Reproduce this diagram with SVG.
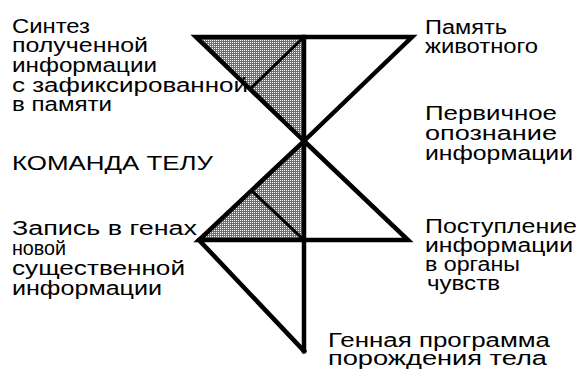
<svg xmlns="http://www.w3.org/2000/svg" width="580" height="372" viewBox="0 0 580 372">
<style>
.t{font-family:"Liberation Sans",Arial,sans-serif;font-size:19.5px;fill:#000}
.s{fill:none;stroke:#000;stroke-width:4.5;stroke-linejoin:miter;stroke-linecap:square}
.i{fill:none;stroke:#000;stroke-width:3}
.sh{fill:url(#dots);stroke:none}
</style>
<defs>
<pattern id="dots" width="2" height="2" patternUnits="userSpaceOnUse">
<rect width="2" height="2" fill="#6e6e6e"/>
<rect width="1" height="1" fill="#fff"/>
</pattern>
</defs>
<rect width="580" height="372" fill="#fff"/>
<g id="figure">
<polygon class="sh" points="196,37 304,37 304,140"/>
<polygon class="sh" points="199,240 304,140 304,240"/>
</g>
<g id="connectors">
<polygon class="s" points="196,37 412,37 304,141"/>
<polygon class="s" points="304,141 408,240 199,240"/>
<polyline class="s" points="199,240 304,351"/>
<line class="s" x1="304" y1="37" x2="304" y2="351"/>
<line class="i" x1="304" y1="37" x2="250" y2="89"/>
<line class="i" x1="251" y1="190" x2="304" y2="240"/>
</g>
<g id="synthesis">
<text class="t" x="12" y="33" textLength="78" lengthAdjust="spacingAndGlyphs">Синтез</text>
<text class="t" x="12" y="52" textLength="136" lengthAdjust="spacingAndGlyphs">полученной</text>
<text class="t" x="12" y="72" textLength="145" lengthAdjust="spacingAndGlyphs">информации</text>
<text class="t" x="12" y="91.5" textLength="236" lengthAdjust="spacingAndGlyphs">с зафиксированной</text>
<text class="t" x="12" y="111" textLength="100" lengthAdjust="spacingAndGlyphs">в памяти</text>
</g>
<g id="command">
<text class="t" x="12" y="170" textLength="201" lengthAdjust="spacingAndGlyphs">КОМАНДА ТЕЛУ</text>
</g>
<g id="genes-record">
<text class="t" x="12" y="235" textLength="185" lengthAdjust="spacingAndGlyphs">Запись в генах</text>
<text class="t" x="12" y="255" textLength="54" lengthAdjust="spacingAndGlyphs">новой</text>
<text class="t" x="12" y="275" textLength="173" lengthAdjust="spacingAndGlyphs">существенной</text>
<text class="t" x="12" y="295" textLength="150" lengthAdjust="spacingAndGlyphs">информации</text>
</g>
<g id="memory">
<text class="t" x="425" y="34" textLength="82" lengthAdjust="spacingAndGlyphs">Память</text>
<text class="t" x="425" y="53" textLength="113" lengthAdjust="spacingAndGlyphs">животного</text>
</g>
<g id="recognition">
<text class="t" x="425" y="120" textLength="132" lengthAdjust="spacingAndGlyphs">Первичное</text>
<text class="t" x="425" y="140" textLength="132" lengthAdjust="spacingAndGlyphs">опознание</text>
<text class="t" x="425" y="160" textLength="148" lengthAdjust="spacingAndGlyphs">информации</text>
</g>
<g id="input">
<text class="t" x="425" y="233" textLength="152" lengthAdjust="spacingAndGlyphs">Поступление</text>
<text class="t" x="425" y="252" textLength="148" lengthAdjust="spacingAndGlyphs">информации</text>
<text class="t" x="425" y="271" textLength="95" lengthAdjust="spacingAndGlyphs">в органы</text>
<text class="t" x="427" y="290" textLength="73" lengthAdjust="spacingAndGlyphs">чувств</text>
</g>
<g id="gene-program">
<text class="t" x="328" y="347" textLength="222" lengthAdjust="spacingAndGlyphs">Генная программа</text>
<text class="t" x="328" y="365" textLength="219" lengthAdjust="spacingAndGlyphs">порождения тела</text>
</g>
</svg>
